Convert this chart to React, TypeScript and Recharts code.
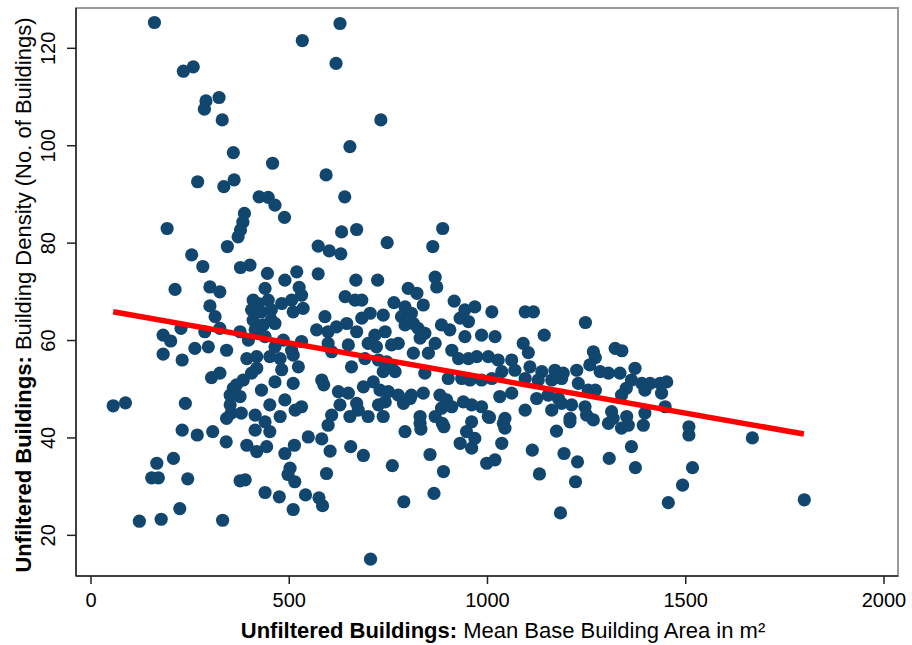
import React from "react";
import { ScatterChart, Scatter, XAxis, YAxis, ReferenceArea, Label } from "recharts";

// Mean base building area (m²) and building density, grouped by part of the plot
const areaUpper = [160, 233, 258, 290, 286, 323, 331, 359, 458, 269, 335, 361, 424, 447, 464, 488, 387, 383, 377, 371, 192, 344, 254, 282, 377, 401, 445, 519, 573, 489, 573, 601, 630, 632, 640, 593, 653, 533, 628, 618, 731, 670, 747, 887, 862, 668, 723, 868];
const densityUpper = [125.3, 115.3, 116.2, 109.2, 107.5, 109.9, 105.3, 98.6, 96.4, 92.6, 91.6, 93.0, 89.5, 89.4, 87.8, 85.3, 86.1, 84.3, 82.7, 81.3, 83.0, 79.3, 77.6, 75.2, 75.0, 75.5, 73.8, 74.1, 73.7, 72.4, 79.4, 78.4, 77.8, 82.3, 89.5, 94.0, 99.8, 121.6, 125.1, 116.9, 105.3, 82.8, 80.1, 83.0, 79.3, 72.4, 72.4, 73.0];

const areaLeft = [212, 300, 325, 439, 525, 409, 422, 447, 506, 300, 405, 430, 455, 481, 510, 313, 409, 455, 464, 434, 227, 182, 201, 287, 325, 376, 397, 414, 439, 464, 485, 506, 262, 296, 342, 182, 230, 393, 418, 451, 477, 510, 481, 523, 418, 405, 325, 304, 384, 367, 464, 510, 430, 359, 351, 376, 489, 451, 56, 87, 238, 351, 354, 379, 414, 515, 477, 342];
const densityLeft = [70.5, 71.0, 70.0, 70.7, 70.9, 68.3, 67.6, 68.3, 68.3, 67.1, 66.3, 65.9, 66.3, 67.6, 65.9, 64.9, 64.2, 64.2, 63.5, 63.2, 62.5, 61.1, 59.9, 61.8, 62.5, 61.8, 60.1, 62.2, 60.8, 58.7, 60.1, 58.0, 58.4, 58.7, 58.0, 57.2, 56.0, 56.3, 56.7, 56.7, 56.3, 57.0, 54.0, 54.6, 54.3, 53.3, 53.3, 52.4, 51.9, 50.9, 51.5, 51.2, 49.8, 50.2, 48.8, 48.5, 47.8, 46.8, 46.6, 47.2, 47.1, 46.8, 45.1, 45.1, 44.7, 45.7, 44.4, 44.0];

const areaCentre = [872, 531, 641, 666, 683, 800, 822, 764, 792, 838, 916, 943, 968, 1011, 535, 590, 683, 704, 737, 783, 808, 792, 813, 825, 884, 905, 931, 952, 569, 598, 619, 645, 670, 716, 742, 830, 842, 1019, 943, 985, 531, 598, 607, 649, 699, 720, 758, 775, 813, 868, 851, 910, 927, 952, 973, 1002, 1027, 582, 587, 657, 691, 725, 746, 758, 767, 737, 842, 901, 935, 956, 985, 1011, 1036, 624, 649, 687, 712, 729, 750, 775, 808, 838, 880, 897, 939, 1031, 531, 628, 670, 674, 725, 742, 788, 805, 884, 910, 960, 985, 607, 653, 699, 737, 830, 868, 1002];
const densityCentre = [71.0, 69.3, 69.0, 68.3, 68.3, 70.7, 69.7, 67.8, 66.9, 67.3, 68.1, 66.3, 66.9, 65.9, 66.6, 64.9, 64.6, 65.6, 65.2, 64.9, 65.6, 63.2, 63.5, 62.5, 63.2, 62.2, 64.6, 63.9, 62.2, 61.8, 62.8, 63.5, 61.8, 61.1, 61.8, 60.5, 61.5, 60.8, 60.8, 61.1, 59.8, 59.4, 57.7, 59.1, 59.4, 58.7, 59.1, 59.4, 57.4, 59.4, 57.4, 58.0, 56.3, 56.3, 56.7, 56.7, 56.0, 51.9, 50.9, 54.6, 56.3, 56.0, 55.6, 54.6, 53.6, 53.6, 53.3, 52.2, 52.2, 51.9, 51.9, 52.2, 53.6, 49.5, 49.2, 50.5, 51.5, 49.8, 49.5, 48.8, 48.8, 49.2, 48.8, 47.8, 47.4, 48.5, 46.4, 46.8, 47.1, 45.7, 46.8, 47.4, 47.1, 48.1, 46.1, 46.4, 46.8, 46.4, 44.7, 44.4, 44.4, 44.4, 44.4, 44.4, 44.4];

const areaRight = [1095, 1116, 1247, 1090, 1103, 1143, 1267, 1272, 1322, 1339, 1061, 1258, 1372, 1069, 1107, 1137, 1170, 1191, 1225, 1284, 1305, 1334, 1363, 1389, 1410, 1435, 1452, 1095, 1128, 1162, 1187, 1229, 1254, 1272, 1350, 1338, 1397, 1439, 1061, 1124, 1153, 1179, 1212, 1246, 1250, 1313, 1397, 1448, 1095, 1162, 1187, 1044, 1208, 1351];
const densityRight = [65.9, 65.9, 63.7, 59.4, 57.5, 61.1, 57.7, 56.5, 58.4, 57.9, 56.0, 55.0, 54.3, 53.9, 54.6, 53.6, 53.9, 53.3, 53.9, 53.6, 53.3, 53.3, 51.9, 51.2, 51.2, 51.2, 51.5, 52.2, 51.9, 51.9, 52.2, 51.2, 49.8, 49.8, 50.2, 48.8, 49.8, 49.2, 49.2, 48.1, 48.8, 48.1, 46.8, 46.4, 44.7, 45.4, 45.1, 46.4, 45.7, 45.7, 47.1, 44.0, 44.0, 44.4];

const areaLowLeft = [439, 451, 414, 598, 230, 268, 307, 341, 393, 418, 443, 489, 513, 548, 582, 603, 208, 166, 153, 170, 244, 376, 389, 502, 497, 514, 594, 439, 475, 541, 575, 584, 510, 224, 122, 177, 332];
const densityLowLeft = [43.3, 41.3, 41.6, 42.6, 41.6, 40.6, 41.3, 39.2, 38.5, 37.2, 38.2, 36.8, 38.5, 40.2, 39.8, 37.3, 35.8, 34.8, 31.8, 31.8, 31.6, 31.2, 31.4, 33.8, 32.5, 31.0, 32.7, 28.8, 27.9, 28.3, 27.7, 26.1, 25.3, 25.5, 22.9, 23.3, 23.1];

const areaLowCentre = [792, 830, 832, 886, 890, 960, 947, 968, 931, 960, 1005, 1040, 1044, 1036, 1208, 1174, 655, 687, 760, 855, 889, 998, 1019, 1113, 1193, 1227, 1131, 1222, 865, 789, 1184, 705];
const densityLowCentre = [41.3, 43.0, 41.8, 43.0, 42.3, 43.3, 41.3, 39.9, 38.9, 37.9, 44.2, 43.0, 42.0, 38.9, 43.3, 41.4, 38.2, 36.4, 34.3, 36.6, 33.1, 34.8, 35.5, 37.5, 36.8, 35.1, 32.6, 31.0, 28.6, 26.9, 24.6, 15.1];

const areaLowRight = [1267, 1305, 1317, 1338, 1355, 1393, 1508, 1508, 1668, 1363, 1307, 1373, 1517, 1492, 1456, 1799];
const densityLowRight = [43.7, 43.0, 44.0, 42.0, 42.6, 42.6, 42.3, 40.6, 40.0, 38.2, 35.8, 33.9, 33.9, 30.3, 26.7, 27.3];

// Linear fit, drawn across the observed area range
const fitArea = [56, 1798];
const fitDensity = [65.9, 40.8];

const xTicks = [0, 500, 1000, 1500, 2000];
const yTicks = [20, 40, 60, 80, 100, 120];
const xDomain = [-37.8, 2035.3];
const yDomain = [11.65, 128.28];

const NAVY = "#11466f";
const FONT = "'Liberation Sans', Arial, Helvetica, sans-serif";
const TICK_SIZE = 20;
const TITLE_SIZE = 22;

const pairs = (xs: number[], ys: number[]) => xs.map((x, i) => ({ x, y: ys[i] }));

const points = [
  ...pairs(areaUpper, densityUpper),
  ...pairs(areaLeft, densityLeft),
  ...pairs(areaCentre, densityCentre),
  ...pairs(areaRight, densityRight),
  ...pairs(areaLowLeft, densityLowLeft),
  ...pairs(areaLowCentre, densityLowCentre),
  ...pairs(areaLowRight, densityLowRight),
];
const fitLine = pairs(fitArea, fitDensity);

const Dot = (props: any) => <circle cx={props.cx} cy={props.cy} r={6.6} fill={NAVY} />;
const NoDot = () => <g />;

const YTick = ({ x, y, payload }: any) => (
  <text
    x={x}
    y={y}
    transform={`rotate(-90, ${x}, ${y})`}
    textAnchor="middle"
    fontSize={TICK_SIZE}
    fontFamily={FONT}
    fill="#000"
  >
    {payload.value}
  </text>
);

const XTitle = ({ viewBox }: any) => (
  <text
    x={viewBox.x + viewBox.width / 2 + 16}
    y={viewBox.y + 62}
    textAnchor="middle"
    fontSize={TITLE_SIZE}
    fontFamily={FONT}
    fill="#000"
  >
    <tspan fontWeight="bold">Unfiltered Buildings:</tspan>
    <tspan> Mean Base Building Area in m²</tspan>
  </text>
);

const YTitle = ({ viewBox }: any) => {
  const cx = 31;
  const cy = viewBox.y + viewBox.height / 2 + 3;
  return (
    <text
      x={cx}
      y={cy}
      transform={`rotate(-90, ${cx}, ${cy})`}
      textAnchor="middle"
      fontSize={TITLE_SIZE}
      fontFamily={FONT}
      fill="#000"
    >
      <tspan fontWeight="bold">Unfiltered Buildings:</tspan>
      <tspan> Building Density (No. of Buildings)</tspan>
    </text>
  );
};

export default function App() {
  return (
    <div style={{ position: "absolute", left: 0, top: 0, width: 912, height: 645, background: "#fff" }}>
      <ScatterChart width={912} height={645} margin={{ top: 8, right: 14, bottom: 0, left: 0 }}>
        <ReferenceArea
          x1={xDomain[0]}
          x2={xDomain[1]}
          y1={yDomain[0]}
          y2={yDomain[1]}
          fill="none"
          stroke="#9a9a9a"
          strokeWidth={2}
          ifOverflow="visible"
        />
        <XAxis
          type="number"
          dataKey="x"
          domain={xDomain}
          ticks={xTicks}
          allowDataOverflow
          height={69}
          tickSize={8}
          tickMargin={9}
          axisLine={{ stroke: "#222", strokeWidth: 1.5 }}
          tickLine={{ stroke: "#222", strokeWidth: 1.5 }}
          tick={{ fontSize: TICK_SIZE, fontFamily: FONT, fill: "#000" }}
        >
          <Label content={<XTitle />} />
        </XAxis>
        <YAxis
          type="number"
          dataKey="y"
          domain={yDomain}
          ticks={yTicks}
          allowDataOverflow
          width={76}
          tickSize={9}
          tickMargin={12}
          axisLine={{ stroke: "#222", strokeWidth: 1.5 }}
          tickLine={{ stroke: "#222", strokeWidth: 1.5 }}
          tick={<YTick />}
        >
          <Label content={<YTitle />} />
        </YAxis>
        <Scatter data={points} shape={<Dot />} isAnimationActive={false} />
        <Scatter
          data={fitLine}
          shape={<NoDot />}
          line={{ stroke: "#ff0000", strokeWidth: 5.5 }}
          isAnimationActive={false}
        />
      </ScatterChart>
    </div>
  );
}
